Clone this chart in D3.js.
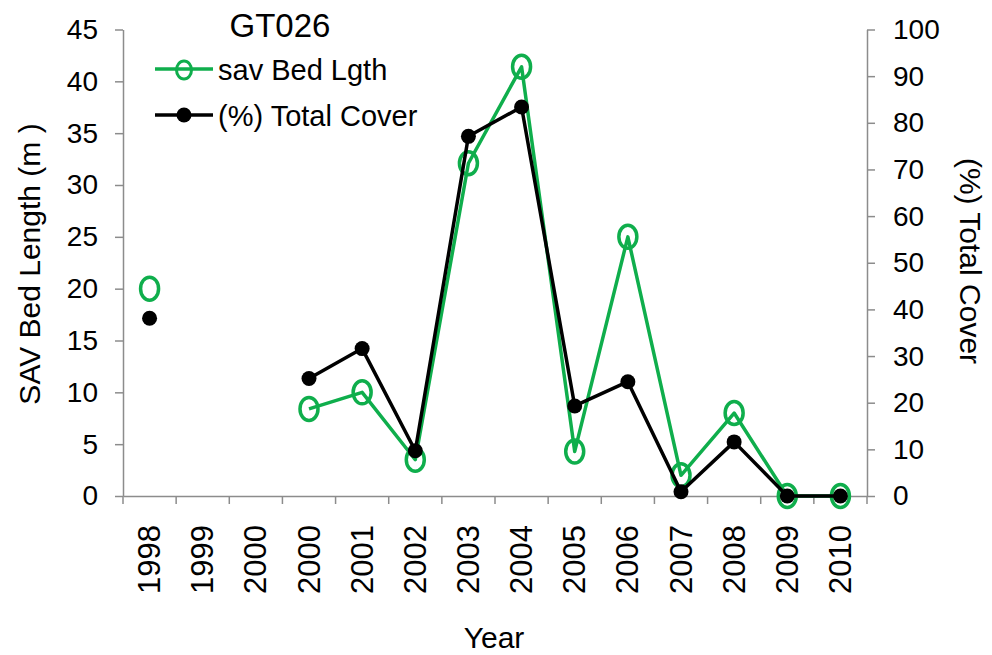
<!DOCTYPE html>
<html>
<head>
<meta charset="utf-8">
<script src="https://cdn.jsdelivr.net/npm/d3@7"></script>
<style>
  body { margin: 0; background: #fff; }
  svg { display: block; font-family: "Liberation Sans", Arial, sans-serif; }
</style>
</head>
<body>
<div id="chart"></div>
<script>
const years = ["1998", "1999", "2000", "2000", "2001", "2002", "2003", "2004", "2005", "2006", "2007", "2008", "2009", "2010"];
const bedLength = [20, null, null, 8.4, 10, 3.5, 32.1, 41.4, 4.3, 25, 2, 8, 0, 0];
const totalCover = [38.1, null, null, 25.2, 31.6, 9.7, 77.1, 83.4, 19.3, 24.5, 0.9, 11.6, 0, 0];
const leftTicks = [0, 5, 10, 15, 20, 25, 30, 35, 40, 45];
const rightTicks = [0, 10, 20, 30, 40, 50, 60, 70, 80, 90, 100];

const width = 992;
const height = 655;
const green = "#0fae4c";
const axisGrey = "#8c8c8c";

const svg = d3.select("#chart").append("svg")
  .attr("width", width)
  .attr("height", height);

const x = d3.scaleBand()
  .domain(d3.range(years.length))
  .range([123, 867]);
const yLeft = d3.scaleLinear().domain([0, 45]).range([496, 29.5]);
const yRight = d3.scaleLinear().domain([0, 100]).range([496, 29.5]);
const cx = i => x(i) + x.bandwidth() / 2;

// axes
const xAxis = svg.append("g")
  .attr("transform", "translate(0,496)")
  .call(d3.axisBottom(x).tickSize(0).tickFormat(""));
xAxis.select(".domain").attr("stroke", axisGrey).attr("stroke-width", 1.5);
xAxis.selectAll(".tick").remove();
xAxis.selectAll(".sep")
  .data(d3.range(years.length + 1))
  .enter().append("line")
    .attr("x1", i => i < years.length ? x(i) : x.range()[1])
    .attr("x2", i => i < years.length ? x(i) : x.range()[1])
    .attr("y1", 0)
    .attr("y2", 8)
    .attr("stroke", axisGrey)
    .attr("stroke-width", 1.5);
xAxis.selectAll(".yr")
  .data(years)
  .enter().append("text")
    .attr("transform", (d, i) => `translate(${cx(i)},29) rotate(-90)`)
    .attr("text-anchor", "end")
    .attr("dominant-baseline", "central")
    .attr("fill", "#000")
    .style("font-size", "31px")
    .text(d => d);

const leftAxis = svg.append("g")
  .attr("transform", "translate(123,0)")
  .call(d3.axisLeft(yLeft).tickValues(leftTicks).tickSize(8).tickSizeOuter(0).tickPadding(17));
leftAxis.select(".domain").attr("stroke", axisGrey).attr("stroke-width", 1.5);
leftAxis.selectAll(".tick line").attr("stroke", axisGrey).attr("stroke-width", 1.5);
leftAxis.selectAll(".tick text")
  .attr("fill", "#000")
  .style("font-family", "Liberation Sans, Arial, sans-serif")
  .style("font-size", "28px");

const rightAxis = svg.append("g")
  .attr("transform", "translate(867,0)")
  .call(d3.axisRight(yRight).tickValues(rightTicks).tickSize(8).tickSizeOuter(0).tickPadding(18));
rightAxis.select(".domain").attr("stroke", axisGrey).attr("stroke-width", 1.5);
rightAxis.selectAll(".tick line").attr("stroke", axisGrey).attr("stroke-width", 1.5);
rightAxis.selectAll(".tick text")
  .attr("fill", "#000")
  .style("font-family", "Liberation Sans, Arial, sans-serif")
  .style("font-size", "28px");

// axis titles
svg.append("text")
  .attr("transform", "translate(29,264) rotate(-90)")
  .attr("text-anchor", "middle")
  .attr("dominant-baseline", "central")
  .style("font-size", "30px")
  .text("SAV Bed Length (m )");

svg.append("text")
  .attr("transform", "translate(970,261) rotate(90)")
  .attr("text-anchor", "middle")
  .attr("dominant-baseline", "central")
  .style("font-size", "30px")
  .text("(%) Total Cover");

svg.append("text")
  .attr("x", 494)
  .attr("y", 648)
  .attr("text-anchor", "middle")
  .style("font-size", "30px")
  .text("Year");

svg.append("text")
  .attr("x", 280)
  .attr("y", 37)
  .attr("text-anchor", "middle")
  .style("font-size", "33px")
  .text("GT026");

// series
const greenLine = d3.line()
  .defined(d => d != null)
  .x((d, i) => cx(i))
  .y(d => yLeft(d));
const blackLine = d3.line()
  .defined(d => d != null)
  .x((d, i) => cx(i))
  .y(d => yRight(d));

svg.append("path")
  .attr("d", greenLine(bedLength))
  .attr("fill", "none")
  .attr("stroke", green)
  .attr("stroke-width", 3.5)
  .attr("stroke-linejoin", "round");

svg.append("g")
  .selectAll("ellipse")
  .data(bedLength.map((v, i) => ({ v, i })).filter(d => d.v != null))
  .enter().append("ellipse")
    .attr("cx", d => cx(d.i))
    .attr("cy", d => yLeft(d.v))
    .attr("rx", 9)
    .attr("ry", 11.5)
    .attr("fill", "none")
    .attr("stroke", green)
    .attr("stroke-width", 3.5);

svg.append("path")
  .attr("d", blackLine(totalCover))
  .attr("fill", "none")
  .attr("stroke", "#000")
  .attr("stroke-width", 3.5)
  .attr("stroke-linejoin", "round");

svg.append("g")
  .selectAll("circle")
  .data(totalCover.map((v, i) => ({ v, i })).filter(d => d.v != null))
  .enter().append("circle")
    .attr("cx", d => cx(d.i))
    .attr("cy", d => yRight(d.v))
    .attr("r", 7.5)
    .attr("fill", "#000");

// legend
const legend = svg.append("g");
legend.append("line")
  .attr("x1", 155).attr("x2", 213)
  .attr("y1", 69).attr("y2", 69)
  .attr("stroke", green).attr("stroke-width", 3.5);
legend.append("ellipse")
  .attr("cx", 184).attr("cy", 70)
  .attr("rx", 7.5).attr("ry", 9)
  .attr("fill", "none")
  .attr("stroke", green).attr("stroke-width", 3);
legend.append("text")
  .attr("x", 218).attr("y", 70)
  .attr("dominant-baseline", "central")
  .style("font-size", "29px")
  .text("sav Bed Lgth");
legend.append("line")
  .attr("x1", 155).attr("x2", 213)
  .attr("y1", 115).attr("y2", 115)
  .attr("stroke", "#000").attr("stroke-width", 3.5);
legend.append("circle")
  .attr("cx", 184).attr("cy", 115)
  .attr("r", 7.5)
  .attr("fill", "#000");
legend.append("text")
  .attr("x", 218).attr("y", 116)
  .attr("dominant-baseline", "central")
  .style("font-size", "29px")
  .text("(%) Total Cover");
</script>
</body>
</html>
